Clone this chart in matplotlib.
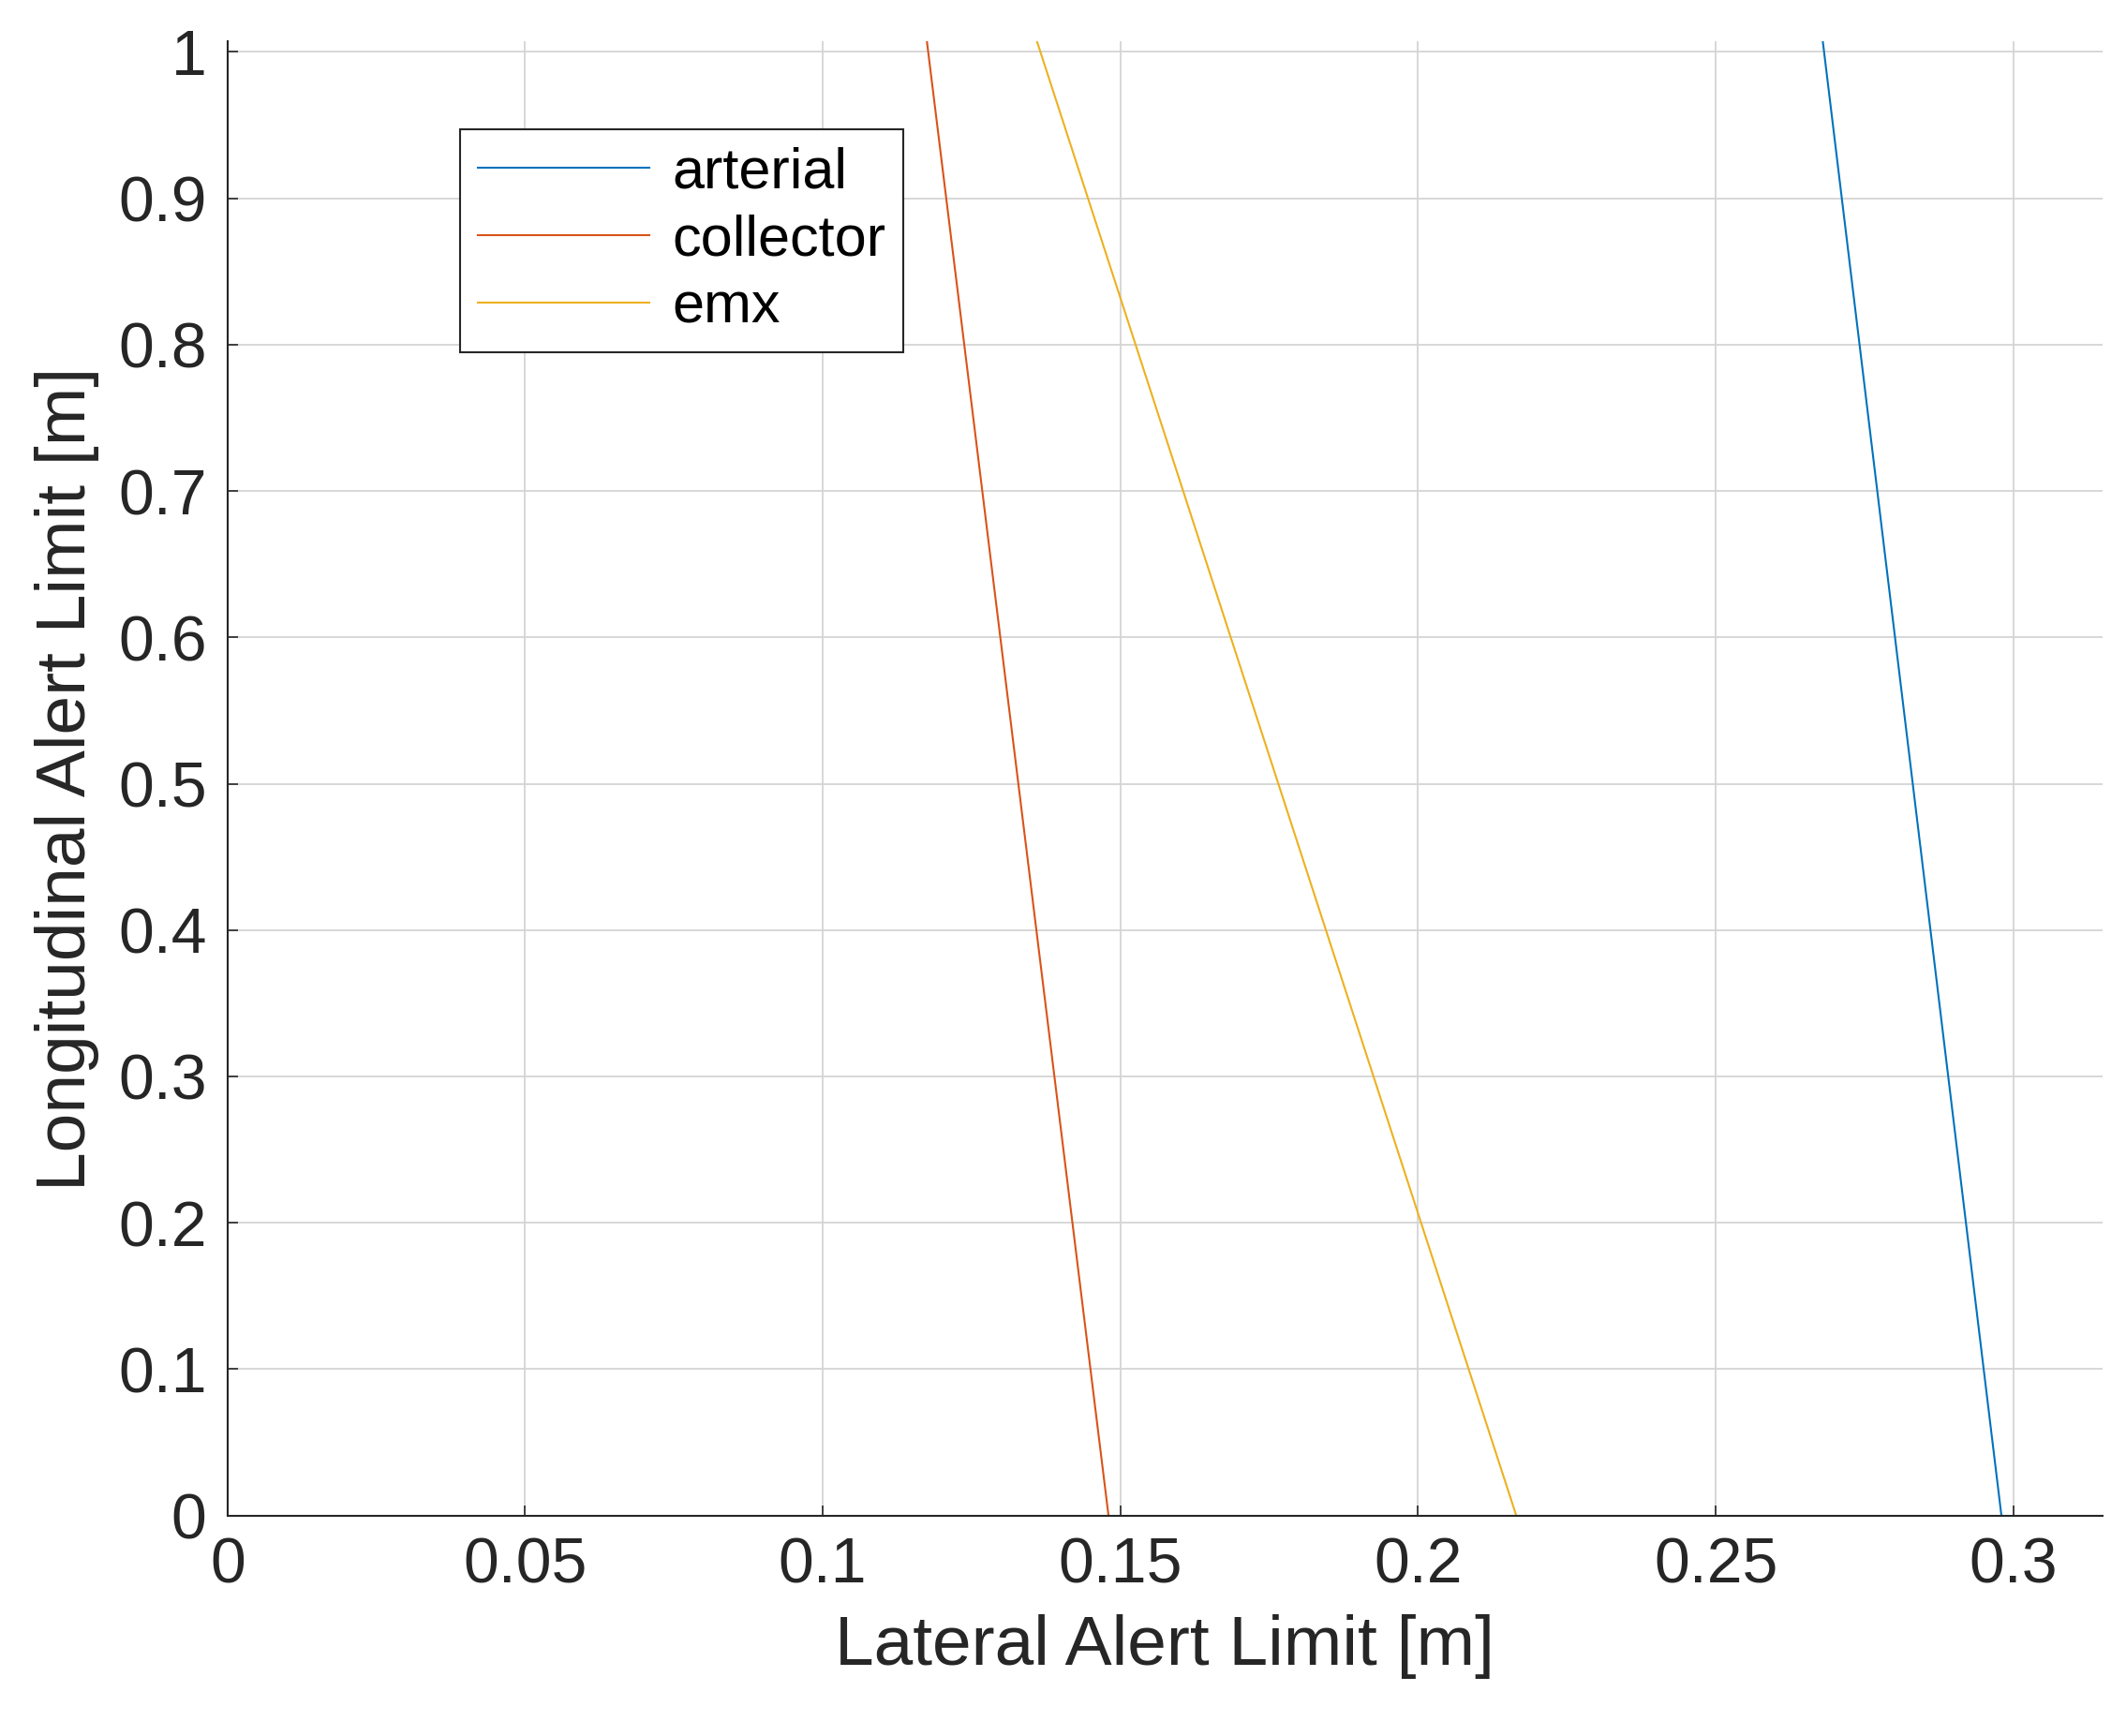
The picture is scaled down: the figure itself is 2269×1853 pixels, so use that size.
import matplotlib
matplotlib.use("Agg")
import matplotlib.pyplot as plt

# endpoints (lateral at long=0 and at top of axes)
long_limit = [0.0, 1.007]
arterial = [0.298, 0.268]
collector = [0.148, 0.1175]
emx = [0.2165, 0.136]

plt.rcParams["font.family"] = ["Liberation Sans", "DejaVu Sans"]

fig = plt.figure(figsize=(22.69, 18.53), dpi=100)
ax = fig.add_axes([0.107, 0.127, 0.882, 0.849])

ax.plot(arterial, long_limit, color="#0072BD", lw=1.5, label="arterial")
ax.plot(collector, long_limit, color="#D95319", lw=1.5, label="collector")
ax.plot(emx, long_limit, color="#EDB120", lw=1.5, label="emx")

ax.set_xlim(0, 0.315)
ax.set_ylim(0, 1.007)
ax.set_xticks([0, 0.05, 0.1, 0.15, 0.2, 0.25, 0.3])
ax.set_xticklabels(["0", "0.05", "0.1", "0.15", "0.2", "0.25", "0.3"])
ax.set_yticks([i / 10 for i in range(11)])
ax.set_yticklabels(["0"] + [f"{i/10:g}" for i in range(1, 10)] + ["1"])
ax.tick_params(direction="in", labelsize=49, length=8, width=1.2, color="#262626",
               labelcolor="#262626", pad=16)
ax.grid(True, color="#d4d4d4", lw=1.3)
ax.set_axisbelow(True)
for s in ("top", "right"):
    ax.spines[s].set_visible(False)
for s in ("left", "bottom"):
    ax.spines[s].set_color("#262626")
    ax.spines[s].set_linewidth(1.5)

ax.set_xlabel("Lateral Alert Limit [m]", fontsize=54, color="#262626", labelpad=14)
ax.set_ylabel("Longitudinal Alert Limit [m]", fontsize=54, color="#262626", labelpad=14)

leg = ax.legend(loc="upper left", bbox_to_anchor=(0.109, 0.96), fontsize=44,
                fancybox=False, edgecolor="#262626", framealpha=1,
                handlelength=3.0, borderpad=0.3, labelspacing=0.25, handletextpad=0.4)
leg.get_frame().set_linewidth(1.5)

fig.savefig("out.png", dpi=100)
